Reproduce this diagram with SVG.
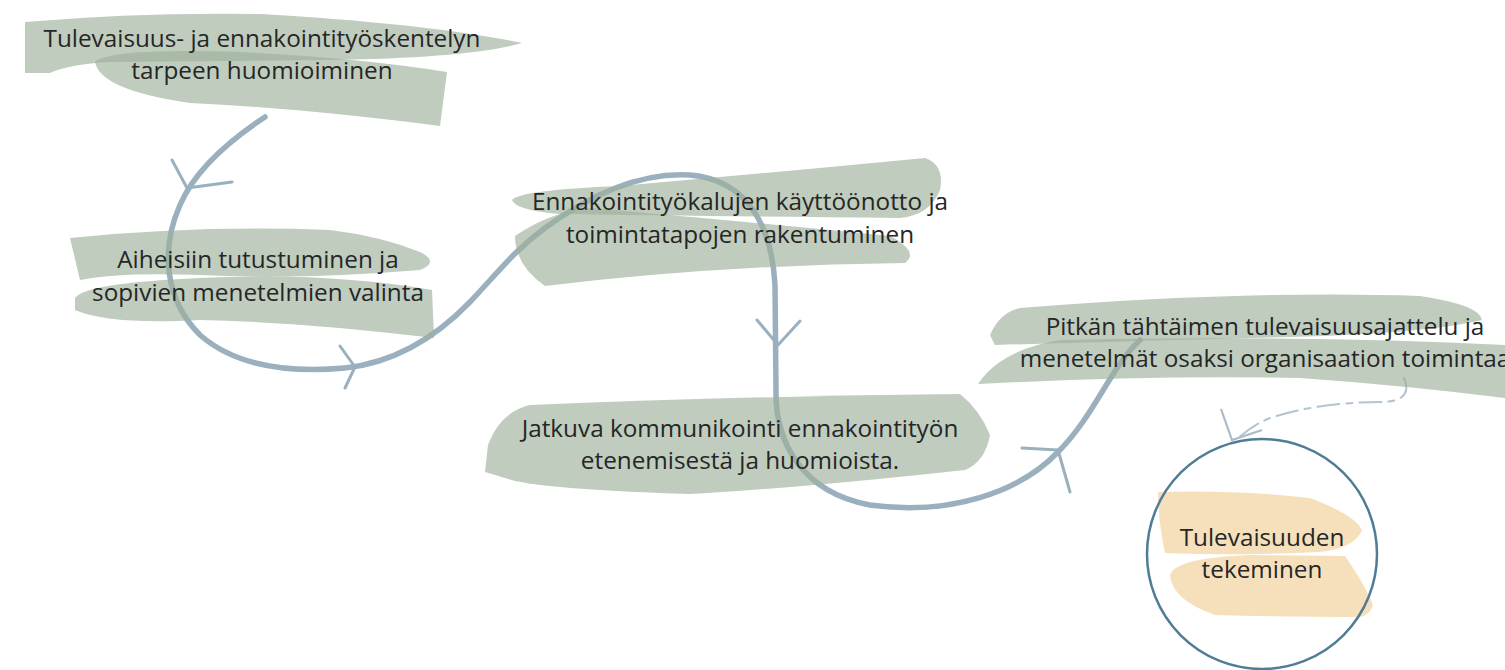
<svg xmlns="http://www.w3.org/2000/svg" width="1505" height="670" viewBox="0 0 1505 670">
<style>
.g{fill:#9db09b;opacity:.65}
.y{fill:#f1d6a4;opacity:.75}
.t{font-family:"Open Sans","Liberation Sans",sans-serif;font-size:24.3px;fill:#262626;text-anchor:middle}
.c{fill:none;stroke:#9ab0bf;stroke-width:5.5;stroke-linecap:round;stroke-linejoin:round}
.h{fill:none;stroke:#9ab0bf;stroke-width:3;stroke-linecap:round;stroke-linejoin:round}
.d{fill:none;stroke:#b3c4d1;stroke-width:2;stroke-dasharray:22 7 6 7;stroke-linecap:round}
</style>
<rect width="1505" height="670" fill="#ffffff"/>
<g id="connectors">
<path class="c" d="M265,117 C230,140 195,170 180,205 C160,250 165,300 200,335 C240,370 300,372 345,368 C400,362 440,333 470,302 C500,270 515,250 545,228 C590,195 640,172 690,175 C750,180 772,230 775,285 L776,390 C775,440 800,492 870,505 C950,516 1020,492 1058,452 C1095,415 1110,368 1140,340"/>
<path class="h" d="M172,160 L187,188 L232,182"/>
<path class="h" d="M340,346 L355,367 L345,388"/>
<path class="h" d="M757,320 L778,345 L800,321"/>
<path class="h" d="M1022,448 L1058,450 L1070,492"/>
<path class="d" d="M1404,378 C1410,392 1405,402 1380,402 C1340,402 1300,408 1270,418 C1255,424 1245,432 1236,440"/>
<path fill="none" stroke="#a9bccb" stroke-width="2.2" d="M1221,409 L1232,440 L1262,430"/>
</g>
<g id="node1">
<path class="g" d="M25,22 Q140,12 262,14 Q430,24 522,43 Q470,58 330,60 L110,62 Q70,64 50,73 L25,73 Z"/>
<path class="g" d="M95,62 Q110,48 240,52 Q360,58 447,72 L440,126 Q300,108 190,103 Q100,90 95,62 Z"/>
<text class="t" x="262" y="47">Tulevaisuus- ja ennakointityöskentelyn</text>
<text class="t" x="262" y="79">tarpeen huomioiminen</text>
</g>
<g id="node2">
<path class="g" d="M70,238 Q200,225 330,230 Q380,236 420,252 Q440,262 420,270 Q300,280 200,275 Q120,272 80,280 Z"/>
<path class="g" d="M75,298 Q85,283 200,278 Q330,272 432,290 L434,338 Q300,322 200,320 Q110,325 75,310 Z"/>
<text class="t" x="258" y="268">Aiheisiin tutustuminen ja</text>
<text class="t" x="258" y="301">sopivien menetelmien valinta</text>
</g>
<g id="node3">
<path class="g" d="M512,200 Q520,190 620,186 Q780,172 925,158 Q945,165 940,190 Q930,215 900,218 Q700,216 560,214 Q515,210 512,200 Z"/>
<path class="g" d="M515,236 Q550,212 590,208 Q750,222 890,236 Q920,252 905,263 Q720,265 545,286 Q515,265 515,236 Z"/>
<text class="t" x="740" y="210">Ennakointityökalujen käyttöönotto ja</text>
<text class="t" x="740" y="243">toimintatapojen rakentuminen</text>
</g>
<g id="node4">
<path class="g" d="M488,445 Q500,412 530,405 Q750,396 960,394 Q980,410 990,435 Q985,462 965,470 Q800,488 690,494 Q560,490 515,481 L485,472 Z"/>
<text class="t" x="740" y="437">Jatkuva kommunikointi ennakointityön</text>
<text class="t" x="740" y="469">etenemisestä ja huomioista.</text>
</g>
<g id="node5">
<path class="g" d="M990,335 Q1000,312 1020,308 Q1250,290 1420,296 Q1480,305 1482,320 Q1420,335 1250,338 Q1100,342 995,345 Z"/>
<path class="g" d="M978,384 Q1000,350 1060,340 Q1300,335 1505,345 L1505,398 Q1400,385 1300,378 Q1150,375 978,384 Z"/>
<text class="t" x="1265" y="335">Pitkän tähtäimen tulevaisuusajattelu ja</text>
<text class="t" x="1265" y="367">menetelmät osaksi organisaation toimintaa</text>
</g>
<g id="node6">
<path class="y" d="M1158,492 Q1240,490 1310,498 Q1355,515 1362,530 Q1355,548 1320,552 Q1240,556 1165,553 Q1158,520 1158,492 Z"/>
<path class="y" d="M1170,575 Q1175,558 1250,555 L1345,556 Q1365,585 1373,605 Q1370,615 1360,617 Q1280,617 1215,615 Q1172,600 1170,575 Z"/>
<circle cx="1262" cy="554" r="115" fill="none" stroke="#4f7d96" stroke-width="2.5"/>
<text class="t" x="1262" y="546">Tulevaisuuden</text>
<text class="t" x="1262" y="578">tekeminen</text>
</g>
</svg>
